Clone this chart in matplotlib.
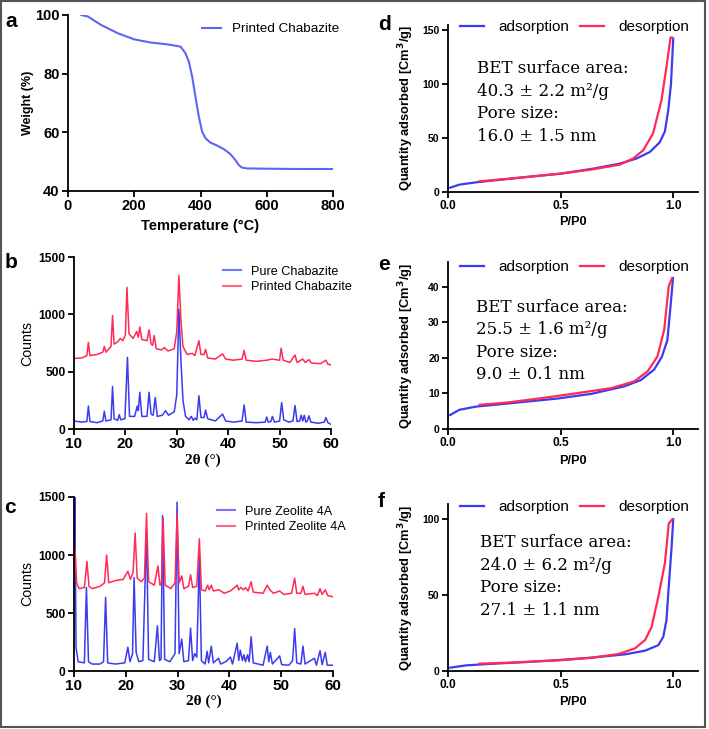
import numpy as np
import matplotlib
matplotlib.use("Agg")
import matplotlib.pyplot as plt
from matplotlib.patches import Rectangle

plt.rcParams['font.family'] = ['Liberation Sans', 'DejaVu Sans']

# ---- data ----
# (a) TGA of printed chabazite
tga_temp = [40, 60, 100, 150, 200, 250, 300, 340, 355, 365, 375, 385, 395, 405, 415,
            430, 450, 470, 490, 505, 515, 525, 540, 600, 700, 800]
tga_weight = [100, 99.5, 96.6, 93.8, 91.7, 90.6, 90.0, 89.2, 86.9, 84.0, 78.9, 72.0,
              65.3, 60.2, 58.0, 56.5, 55.5, 54.3, 52.6, 50.6, 48.9, 48.0, 47.7, 47.6,
              47.5, 47.5]

# (b) XRD chabazite, (2theta, counts) vertices
cha_pure = [(10.0, 70), (11.5, 60), (12.5, 65), (12.8, 200), (13.1, 65), (14.5, 55),
            (15.6, 70), (15.9, 155), (16.2, 70), (17.2, 80), (17.5, 370), (17.8, 90),
            (18.5, 75), (18.8, 125), (19.1, 80), (19.9, 90), (20.4, 625), (20.8, 110),
            (21.8, 110), (22.3, 200), (22.5, 160), (22.8, 320), (23.2, 110), (24.2, 110),
            (24.6, 320), (25.0, 130), (25.4, 120), (25.8, 275), (26.2, 110), (27.2, 120),
            (27.8, 160), (28.4, 120), (29.5, 150), (30.0, 300), (30.4, 1045), (30.8, 600),
            (31.2, 250), (31.7, 110), (32.4, 80), (32.8, 110), (33.2, 75), (33.5, 95),
            (33.9, 80), (34.3, 290), (34.7, 100), (35.3, 100), (35.6, 165), (36.0, 90),
            (37.5, 70), (38.9, 130), (39.5, 70), (41.0, 60), (42.7, 70), (43.1, 210),
            (43.5, 60), (45.5, 55), (47.2, 60), (47.5, 105), (47.8, 60), (48.3, 65),
            (48.6, 110), (49.0, 60), (50.0, 70), (50.4, 230), (50.8, 80), (51.8, 60),
            (52.6, 70), (53.0, 205), (53.4, 65), (53.9, 70), (54.2, 120), (54.5, 70),
            (54.8, 120), (55.1, 60), (55.4, 70), (55.7, 115), (56.1, 60), (57.5, 50),
            (58.7, 60), (59.0, 100), (59.4, 55), (60.0, 40)]
cha_printed = [(10.0, 615), (11.5, 620), (12.5, 640), (12.8, 755), (13.1, 640), (14.5, 650),
               (15.6, 670), (15.9, 720), (16.2, 670), (17.2, 720), (17.5, 990), (17.8, 740),
               (18.5, 760), (19.0, 790), (19.5, 770), (20.0, 820), (20.3, 1235), (20.7, 830),
               (21.5, 790), (22.2, 850), (22.5, 800), (22.8, 890), (23.2, 780), (24.2, 770),
               (24.6, 865), (25.0, 740), (25.3, 730), (25.6, 815), (26.0, 700), (27.0, 690),
               (27.6, 710), (28.3, 680), (29.5, 700), (30.0, 850), (30.4, 1340), (30.8, 950),
               (31.2, 720), (32.0, 650), (33.0, 660), (33.5, 640), (34.3, 770), (34.7, 650),
               (35.3, 650), (35.6, 695), (36.0, 620), (37.5, 610), (38.9, 655), (39.5, 610),
               (41.0, 600), (42.7, 610), (43.1, 685), (43.5, 600), (45.5, 590), (47.5, 600),
               (48.6, 610), (50.0, 600), (50.3, 705), (50.7, 600), (52.0, 580), (53.0, 645),
               (53.4, 580), (54.5, 610), (55.0, 580), (55.7, 605), (56.2, 575), (58.0, 570),
               (59.0, 600), (59.4, 565), (60.0, 560)]

# (c) XRD zeolite 4A
zeo_pure = [(10.0, 900), (10.15, 1500), (10.4, 200), (10.8, 80), (12.0, 70), (12.4, 720),
            (12.8, 80), (13.5, 60), (15.0, 60), (15.7, 80), (16.1, 635), (16.5, 70),
            (18.0, 60), (19.8, 70), (20.4, 205), (20.8, 80), (21.3, 150), (21.6, 805),
            (22.0, 160), (22.5, 80), (23.3, 90), (24.0, 1210), (24.4, 100), (25.5, 80),
            (26.1, 390), (26.5, 90), (26.8, 100), (27.1, 1340), (27.5, 100), (28.5, 80),
            (29.5, 150), (29.9, 1455), (30.3, 150), (30.8, 275), (31.2, 80), (32.1, 90),
            (32.5, 370), (32.9, 90), (33.3, 150), (33.7, 120), (34.2, 990), (34.6, 90),
            (35.3, 60), (35.7, 170), (36.0, 70), (36.5, 215), (36.9, 70), (37.9, 110),
            (38.3, 60), (39.3, 80), (40.2, 120), (40.6, 60), (41.5, 240), (41.8, 90),
            (42.1, 180), (42.5, 90), (42.8, 140), (43.1, 80), (43.5, 140), (43.8, 80),
            (44.2, 295), (44.6, 70), (46.5, 50), (47.3, 215), (47.6, 80), (47.9, 160),
            (48.3, 60), (49.7, 130), (50.1, 55), (51.5, 50), (52.2, 90), (52.6, 365),
            (53.0, 70), (53.8, 60), (54.2, 215), (54.6, 60), (56.4, 110), (56.8, 50),
            (57.5, 175), (57.9, 55), (58.5, 160), (58.9, 50), (60.0, 50)]
zeo_printed = [(10.0, 800), (10.2, 1050), (10.5, 760), (11.0, 710), (12.0, 720), (12.5, 945),
               (12.9, 730), (13.5, 710), (15.0, 730), (15.9, 760), (16.3, 1000), (16.7, 760),
               (18.0, 780), (19.5, 790), (20.4, 860), (20.9, 790), (21.4, 850), (21.8, 1190),
               (22.2, 800), (23.0, 770), (23.6, 800), (24.0, 1360), (24.4, 770), (25.5, 740),
               (26.2, 905), (26.6, 740), (26.9, 760), (27.2, 1320), (27.6, 740), (28.7, 710),
               (29.5, 760), (29.9, 1350), (30.3, 760), (30.8, 820), (31.2, 710), (32.1, 730),
               (32.5, 830), (32.9, 720), (33.7, 730), (34.2, 1140), (34.6, 700), (35.3, 690),
               (35.8, 740), (36.1, 700), (36.5, 740), (36.9, 690), (38.0, 700), (39.0, 670),
               (40.2, 690), (41.5, 740), (41.8, 700), (42.2, 720), (42.7, 700), (43.1, 720),
               (43.6, 690), (44.2, 770), (44.6, 680), (46.5, 670), (47.3, 740), (47.8, 700),
               (48.5, 670), (49.7, 690), (50.5, 660), (52.0, 670), (52.6, 800), (53.0, 670),
               (53.8, 670), (54.2, 730), (54.6, 660), (56.4, 670), (57.0, 650), (57.5, 710),
               (57.9, 660), (58.5, 700), (59.0, 650), (60.0, 640)]

# (d)-(f) N2 isotherms, (P/P0, quantity)
d_ads = [(0.01, 4.0), (0.05, 6.8), (0.126, 9.0), (0.35, 13.9), (0.5, 17.0), (0.644, 21.6),
         (0.763, 26.3), (0.837, 31.0), (0.896, 37.0), (0.94, 46.0), (0.963, 56.0),
         (0.978, 76.0), (0.99, 100.0), (1.0, 142.0)]
d_des = [(0.995, 143.0), (0.988, 143.0), (0.97, 116.0), (0.948, 85.0), (0.91, 54.0),
         (0.867, 38.7), (0.822, 31.0), (0.763, 25.4), (0.644, 21.0), (0.5, 17.0),
         (0.274, 12.4), (0.14, 9.9)]
e_ads = [(0.01, 3.95), (0.05, 5.4), (0.124, 6.3), (0.27, 7.2), (0.49, 8.6), (0.637, 9.9),
         (0.783, 12.0), (0.857, 13.8), (0.915, 16.7), (0.95, 20.4), (0.974, 25.0),
         (0.988, 34.5), (0.999, 42.5)]
e_des = [(0.995, 42.5), (0.98, 40.2), (0.96, 28.0), (0.93, 20.4), (0.886, 16.2),
         (0.827, 13.4), (0.725, 11.5), (0.564, 10.0), (0.417, 8.7), (0.27, 7.5), (0.14, 6.8)]
f_ads = [(0.01, 2.2), (0.08, 3.7), (0.2, 4.8), (0.345, 5.9), (0.49, 7.2), (0.64, 8.8),
         (0.787, 11.0), (0.875, 13.4), (0.934, 17.0), (0.956, 22.6), (0.97, 33.5),
         (0.98, 55.5), (0.993, 82.0), (1.0, 100.0)]
f_des = [(0.996, 100.0), (0.98, 97.0), (0.963, 71.0), (0.934, 49.0), (0.904, 29.0),
         (0.875, 20.4), (0.83, 14.9), (0.757, 11.2), (0.64, 8.8), (0.49, 7.0),
         (0.272, 5.5), (0.14, 4.8)]

bet_notes = ["BET surface area:\n40.3 \u00b1 2.2 m\u00b2/g\nPore size:\n16.0 \u00b1 1.5 nm",
             "BET surface area:\n25.5 \u00b1 1.6 m\u00b2/g\nPore size:\n9.0 \u00b1 0.1 nm",
             "BET surface area:\n24.0 \u00b1 6.2 m\u00b2/g\nPore size:\n27.1 \u00b1 1.1 nm"]

BLUE = '#3b3bf0'
RED = '#ff2a55'
TGA_BLUE = '#5c66f2'

W, H = 709, 729
fig = plt.figure(figsize=(W / 100, H / 100), dpi=100)


def px_axes(left, top, right, bottom):
    return fig.add_axes([left / W, 1 - bottom / H, (right - left) / W, (bottom - top) / H])


def style(ax, xsize, ysize):
    for s in ('top', 'right'):
        ax.spines[s].set_visible(False)
    for s in ('left', 'bottom'):
        ax.spines[s].set_linewidth(1.3)
    ax.tick_params(direction='out', length=4, width=1.3, pad=2)
    ax.tick_params(axis='x', labelsize=xsize)
    ax.tick_params(axis='y', labelsize=ysize)
    for lab in ax.get_xticklabels() + ax.get_yticklabels():
        lab.set_fontweight('bold')


def xy(pairs):
    a = np.array(pairs)
    return a[:, 0], a[:, 1]


# ---- (a) ----
ax = px_axes(68, 15, 333, 191)
ax.plot(tga_temp, tga_weight, color=TGA_BLUE, lw=1.5, label='Printed Chabazite')
ax.set_xlim(0, 800)
ax.set_ylim(40, 100)
ax.set_xticks([0, 200, 400, 600, 800])
ax.set_yticks([40, 60, 80, 100])
style(ax, 10.5, 10.5)
ax.set_xlabel('Temperature (\u00b0C)', fontsize=10.5, fontweight='bold')
ax.set_ylabel('Weight (%)', fontsize=9, fontweight='bold')
ax.xaxis.set_label_coords(0.5, -0.16)
ax.yaxis.set_label_coords(-0.128, 0.5)
ax.legend(loc='center left', bbox_to_anchor=(0.506, 0.92), frameon=False, fontsize=9.7,
          handlelength=1.4, handletextpad=0.8, borderpad=0, borderaxespad=0)

# ---- (b) and (c) ----
xrd = [((74, 257, 331, 429), cha_pure, cha_printed, 'Pure Chabazite', 'Printed Chabazite',
        (0.58, 0.869), -0.14),
       ((74, 497, 333, 671), zeo_pure, zeo_printed, 'Pure Zeolite 4A', 'Printed Zeolite 4A',
        (0.552, 0.871), -0.138)]
for box, pure, printed, lab1, lab2, lpos, xl in xrd:
    ax = px_axes(*box)
    ax.plot(*xy(pure), color=BLUE, lw=1.1, label=lab1)
    ax.plot(*xy(printed), color=RED, lw=1.1, label=lab2)
    ax.set_xlim(10, 60)
    ax.set_ylim(0, 1500)
    ax.set_xticks([10, 20, 30, 40, 50, 60])
    ax.set_yticks([0, 500, 1000, 1500])
    style(ax, 11, 8.7)
    ax.set_xlabel('2\u03b8 (\u00b0)', fontsize=11, fontweight='bold', family='Liberation Serif')
    ax.set_ylabel('Counts', fontsize=10.2)
    ax.xaxis.set_label_coords(0.5, xl)
    ax.yaxis.set_label_coords(-0.153, 0.5)
    leg = ax.legend(loc='center left', bbox_to_anchor=lpos, frameon=False, fontsize=9.1,
                    handlelength=1.4, handletextpad=0.8, labelspacing=0.3,
                    borderpad=0, borderaxespad=0)
    for h in leg.get_lines():
        h.set_alpha(0.7)
        h.set_linewidth(1.5)

# ---- (d), (e), (f) ----
bet = [((448, 24.6, 698, 192), d_ads, d_des, (0, 155), [0, 50, 100, 150], 0.986,
        (0.116, 0.535), -0.143),
       ((448, 262, 698, 429), e_ads, e_des, (0, 47), [0, 10, 20, 30, 40], 0.97,
        (0.112, 0.527), -0.156),
       ((448, 504, 698, 671), f_ads, f_des, (0, 110), [0, 50, 100], 0.982,
        (0.128, 0.566), -0.15)]
for (box, ads, des, ylim, yt, ly, tpos, xl), note in zip(bet, bet_notes):
    ax = px_axes(*box)
    ax.plot(*xy(ads), color=BLUE, lw=1.6, label='adsorption')
    ax.plot(*xy(des), color=RED, lw=1.6, label='desorption')
    ax.set_xlim(0, 1.11)
    ax.set_ylim(*ylim)
    ax.set_xticks([0.0, 0.5, 1.0])
    ax.set_xticklabels(['0.0', '0.5', '1.0'])
    ax.set_yticks(yt)
    style(ax, 8.6, 7.5)
    ax.set_xlabel('P/P0', fontsize=9.2, fontweight='bold')
    ax.set_ylabel('Quantity adsorbed [Cm$^\\mathbf{3}$/g]', fontsize=9.3, fontweight='bold')
    ax.xaxis.set_label_coords(0.5, xl)
    ax.yaxis.set_label_coords(-0.126, 0.5)
    ax.legend(loc='center left', bbox_to_anchor=(0.048, ly), ncol=2, frameon=False,
              fontsize=11, handlelength=1.6, handletextpad=0.9, columnspacing=0.7,
              borderpad=0, borderaxespad=0)
    ax.text(tpos[0], tpos[1], note, transform=ax.transAxes, ha='left', va='center',
            family='DejaVu Serif', fontsize=12, linespacing=1.42)

# panel letters
for letter, x, y in [('a', 5, 27), ('b', 5, 268), ('c', 4, 513),
                     ('d', 378, 30), ('e', 378, 270), ('f', 378, 507)]:
    fig.text(x / W, 1 - y / H, letter, fontsize=15, fontweight='bold', ha='left',
             va='baseline')

# frame around the figure
fig.patches.append(Rectangle((1 / W, 2 / H), 704 / W, 1 - 2.5 / H, transform=fig.transFigure,
                             fill=False, edgecolor='#555555', linewidth=1.5))

fig.savefig('out.png', dpi=100)
